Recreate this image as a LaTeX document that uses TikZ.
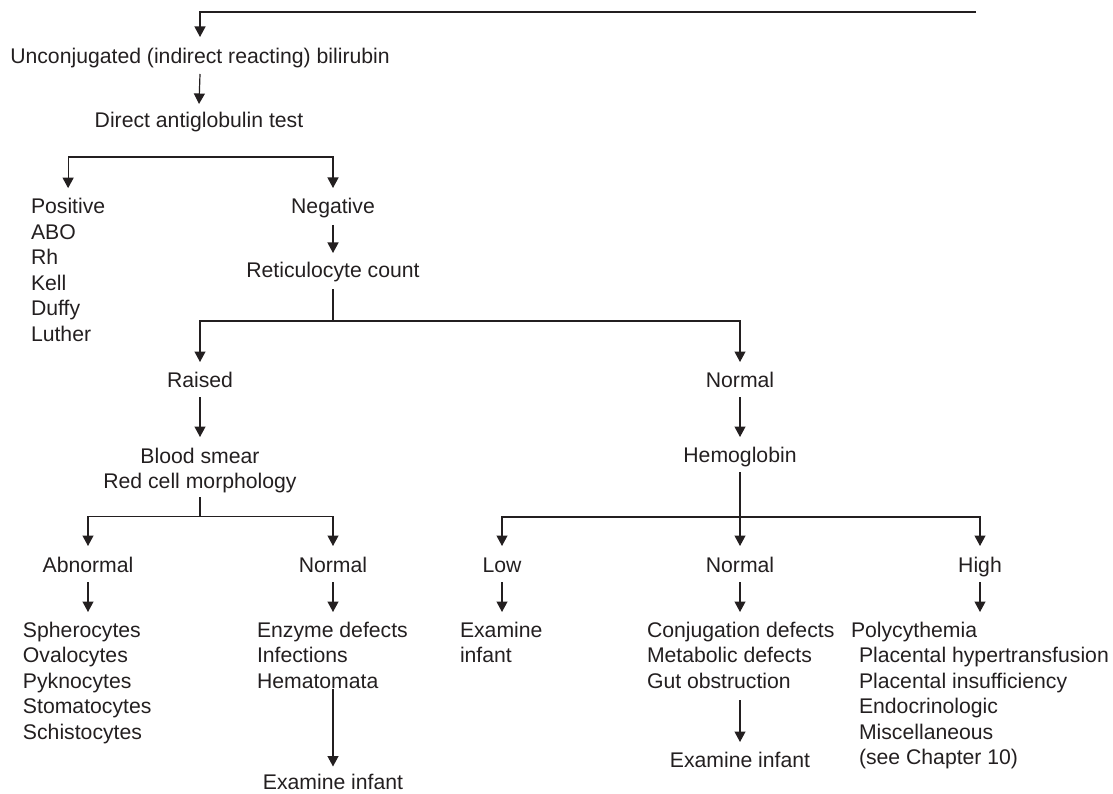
\documentclass[tikz,border=0pt]{standalone}
\usepackage{fontspec}
\setmainfont{Liberation Sans}
\usetikzlibrary{arrows.meta}
\definecolor{ink}{HTML}{231F20}
% stacked lines whose baseline is that of the first line
\newcommand{\rowsof}[2][l]{\begin{tabular}[t]{@{}#1@{}}#2\end{tabular}}
\begin{document}
\begin{tikzpicture}[x=1pt,y=-1pt,
  every node/.style={inner sep=0pt,outer sep=0pt,text=ink,
    font=\fontsize{21.2}{25.5}\selectfont},
  txt/.style={anchor=base,text height=15.5pt,text depth=4.5pt},
  lst/.style={anchor=base west},
  blk/.style={anchor=base},
  link/.style={draw=ink,line width=1.2pt},
  arr/.style={link,-{Triangle[width=11pt,length=10.5pt]}}]
\useasboundingbox (0,0) rectangle (1113,794);

% nodes
\coordinate (topR) at (976,12);
\node[txt] (bili) at (200,64) {Unconjugated (indirect reacting) bilirubin};
\node[txt] (dat)  at (199,128) {Direct antiglobulin test};
\node[lst] (pos)  at (31,214) {\rowsof{Positive\\ABO\\Rh\\Kell\\Duffy\\Luther}};
\node[txt] (neg)  at (333,214) {Negative};
\node[txt] (ret)  at (333,277.5) {Reticulocyte count};
\node[txt] (rai)  at (200,387) {Raised};
\node[txt] (nrmA) at (740,387) {Normal};
\node[blk] (bs)   at (200,463) {\rowsof[c]{Blood smear\\Red cell morphology}};
\node[txt] (hemo) at (740,462) {Hemoglobin};
\node[txt] (abn)  at (88,572) {Abnormal};
\node[txt] (nrmB) at (333,572) {Normal};
\node[txt] (low)  at (502,572) {Low};
\node[txt] (nrmC) at (740,572) {Normal};
\node[txt] (high) at (980,572) {High};
\node[lst] (sph)  at (23,637) {\rowsof{Spherocytes\\Ovalocytes\\Pyknocytes\\Stomatocytes\\Schistocytes}};
\node[lst] (enz)  at (257,637) {\rowsof{Enzyme defects\\Infections\\Hematomata}};
\node[lst] (exL)  at (460,637) {\rowsof{Examine\\infant}};
\node[lst] (conj) at (647,637) {\rowsof{Conjugation defects\\Metabolic defects\\Gut obstruction}};
\node[lst] (poly) at (851,637) {\rowsof{Polycythemia\\
  \hspace*{8pt}Placental hypertransfusion\\
  \hspace*{8pt}Placental insufficiency\\
  \hspace*{8pt}Endocrinologic\\
  \hspace*{8pt}Miscellaneous\\
  \hspace*{8pt}(see Chapter 10)}};
\node[txt] (exB)  at (333,789.5) {Examine infant};
\node[txt] (exC)  at (740,767) {Examine infant};

% split points
\coordinate (dsplit) at ([yshift=-24.5pt]dat.south);
\coordinate (rsplit) at ([yshift=-39pt]ret.south);
\coordinate (bsplit) at ([yshift=-20pt]bs.south);
\coordinate (hsplit) at ([yshift=-50.5pt]hemo.south);

% connectors
\draw[arr] (topR) -| ([yshift=11.5pt]bili.north);
\draw[arr] ([yshift=-5.5pt]bili.south) -- ([yshift=8.5pt]dat.north);
\draw[arr] (dsplit) -| ([yshift=8pt]pos.north);
\draw[arr] (dsplit) -| ([yshift=10.5pt]neg.north);
\draw[arr] ([yshift=-6.5pt]neg.south) -- ([yshift=9pt]ret.north);
\draw[link] ([yshift=-7pt]ret.south) -- (rsplit);
\draw[arr] (rsplit) -| ([yshift=9.5pt]rai.north);
\draw[arr] (rsplit) -| ([yshift=9.5pt]nrmA.north);
\draw[arr] ([yshift=-5.5pt]rai.south) -- ([yshift=8.15pt]bs.north);
\draw[arr] ([yshift=-5.5pt]nrmA.south) -- ([yshift=9.5pt]hemo.north);
\draw[link] ([yshift=-1pt]bs.south) -- (bsplit);
\draw[arr] (bsplit) -| ([yshift=10.5pt]abn.north);
\draw[arr] (bsplit) -| ([yshift=10.5pt]nrmB.north);
\draw[arr] ([yshift=-5.5pt]hemo.south) -- ([yshift=10.5pt]nrmC.north);
\draw[arr] (hsplit) -| ([yshift=10.5pt]low.north);
\draw[arr] (hsplit) -| ([yshift=10.5pt]high.north);
\draw[arr] ([yshift=-5.5pt]abn.south) -- ([yshift=7.15pt]abn.south |- sph.north);
\draw[arr] ([yshift=-5.5pt]nrmB.south) -- ([yshift=7.15pt]nrmB.south |- enz.north);
\draw[arr] ([yshift=-5.5pt]low.south) -- ([yshift=7.15pt]low.south |- exL.north);
\draw[arr] ([yshift=-5.5pt]nrmC.south) -- ([yshift=7.15pt]nrmC.south |- conj.north);
\draw[arr] ([yshift=-5.5pt]high.south) -- ([yshift=7.15pt]high.south |- poly.north);
\draw[arr] ([yshift=7pt]exB.north |- enz.south) -- ([yshift=7.5pt]exB.north);
\draw[arr] ([yshift=-4.35pt]exC.north |- conj.south) -- ([yshift=9.5pt]exC.north);
\end{tikzpicture}
\end{document}
